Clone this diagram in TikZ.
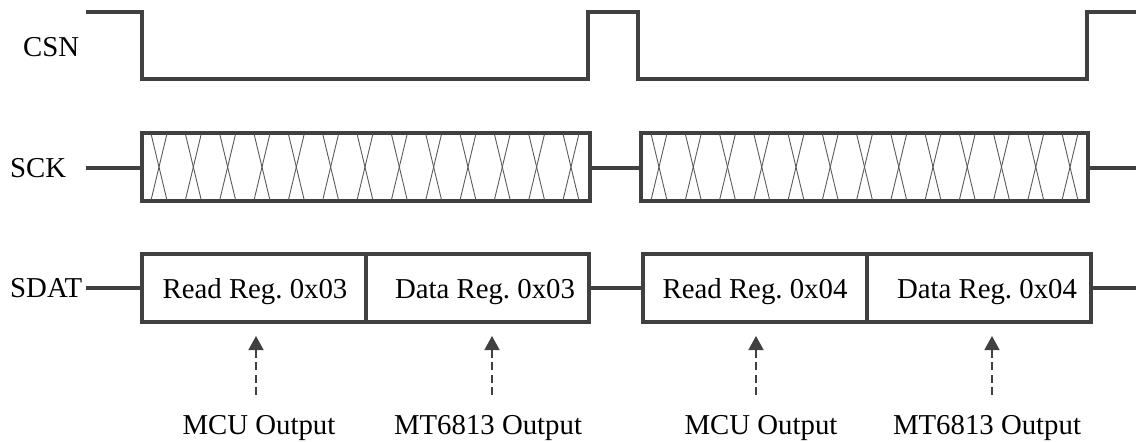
\documentclass[tikz,border=0pt]{standalone}
\usepackage{fontspec}
\setmainfont{Liberation Serif}
\usetikzlibrary{arrows.meta}
\definecolor{sig}{HTML}{404040}
\definecolor{hatch}{HTML}{5A5A5A}
\frenchspacing
\begin{document}
\begin{tikzpicture}[x=1pt,y=-1pt,
  signal/.style={draw=sig, line width=3.3pt, line join=miter},
  hatchline/.style={draw=hatch, line width=0.9pt},
  lbl/.style={font=\fontsize{28.8}{34}\selectfont, inner sep=0pt, anchor=base west},
  celltext/.style={font=\fontsize{28.8}{34}\selectfont, inner sep=0pt, anchor=base},
  pointer/.style={draw=sig, line width=1.5pt, dash pattern=on 8pt off 4.5pt, -{Triangle[length=14pt,width=15pt]}},
]
\useasboundingbox (0,0) rectangle (1136,442);

% signal names
\node[lbl] (csn)  at (23,56.5)  {CSN};
\node[lbl] (sck)  at (10,177.5) {SCK};
\node[lbl] (sdat) at (10,297.5) {SDAT};

% CSN
\draw[signal] (86,12) -- (142,12) -- (142,79) -- (588,79) -- (588,12) -- (638,12)
  -- (638,79) -- (1087,79) -- (1087,12) -- (1140,12);

% SCK
\draw[signal] (86,168) -- (142,168);
\draw[signal] (142,133) rectangle (590,201);
\draw[signal] (590,168) -- (641,168);
\draw[signal] (641,133) rectangle (1088,201);
\draw[signal] (1088,168) -- (1140,168);
\foreach \k in {0,...,12}{
  \pgfmathsetmacro{\ca}{159+34.33*\k}
  \pgfmathsetmacro{\cb}{659+34.25*\k}
  \draw[hatchline] (\ca-7.8,134.5) -- (\ca+7.8,199.5);
  \draw[hatchline] (\ca+7.8,134.5) -- (\ca-7.8,199.5);
  \draw[hatchline] (\cb-7.8,134.5) -- (\cb+7.8,199.5);
  \draw[hatchline] (\cb+7.8,134.5) -- (\cb-7.8,199.5);
}

% SDAT
\draw[signal] (86,288) -- (142,288);
\draw[signal] (142,254) rectangle (589,322);
\draw[signal] (366,254) -- (366,322);
\draw[signal] (589,288) -- (643,288);
\draw[signal] (643,254) rectangle (1091,322);
\draw[signal] (867,254) -- (867,322);
\draw[signal] (1091,288) -- (1140,288);

\node[celltext] (r3) at (255,298) {Read Reg. 0x03};
\node[celltext] (d3) at (485,298) {Data Reg. 0x03};
\node[celltext] (r4) at (755,298) {Read Reg. 0x04};
\node[celltext] (d4) at (987,298) {Data Reg. 0x04};

% outputs
\node[celltext] (o1) at (259,434) {MCU Output};
\node[celltext] (o2) at (488,434) {MT6813 Output};
\node[celltext] (o3) at (761,434) {MCU Output};
\node[celltext] (o4) at (987,434) {MT6813 Output};

\coordinate (t1) at (256,336); \coordinate (b1) at (256,395);
\coordinate (t2) at (492,336); \coordinate (b2) at (492,395);
\coordinate (t3) at (756,336); \coordinate (b3) at (756,395);
\coordinate (t4) at (992,336); \coordinate (b4) at (992,395);
\draw[pointer] (b1) -- (t1);
\draw[pointer] (b2) -- (t2);
\draw[pointer] (b3) -- (t3);
\draw[pointer] (b4) -- (t4);
\end{tikzpicture}
\end{document}
